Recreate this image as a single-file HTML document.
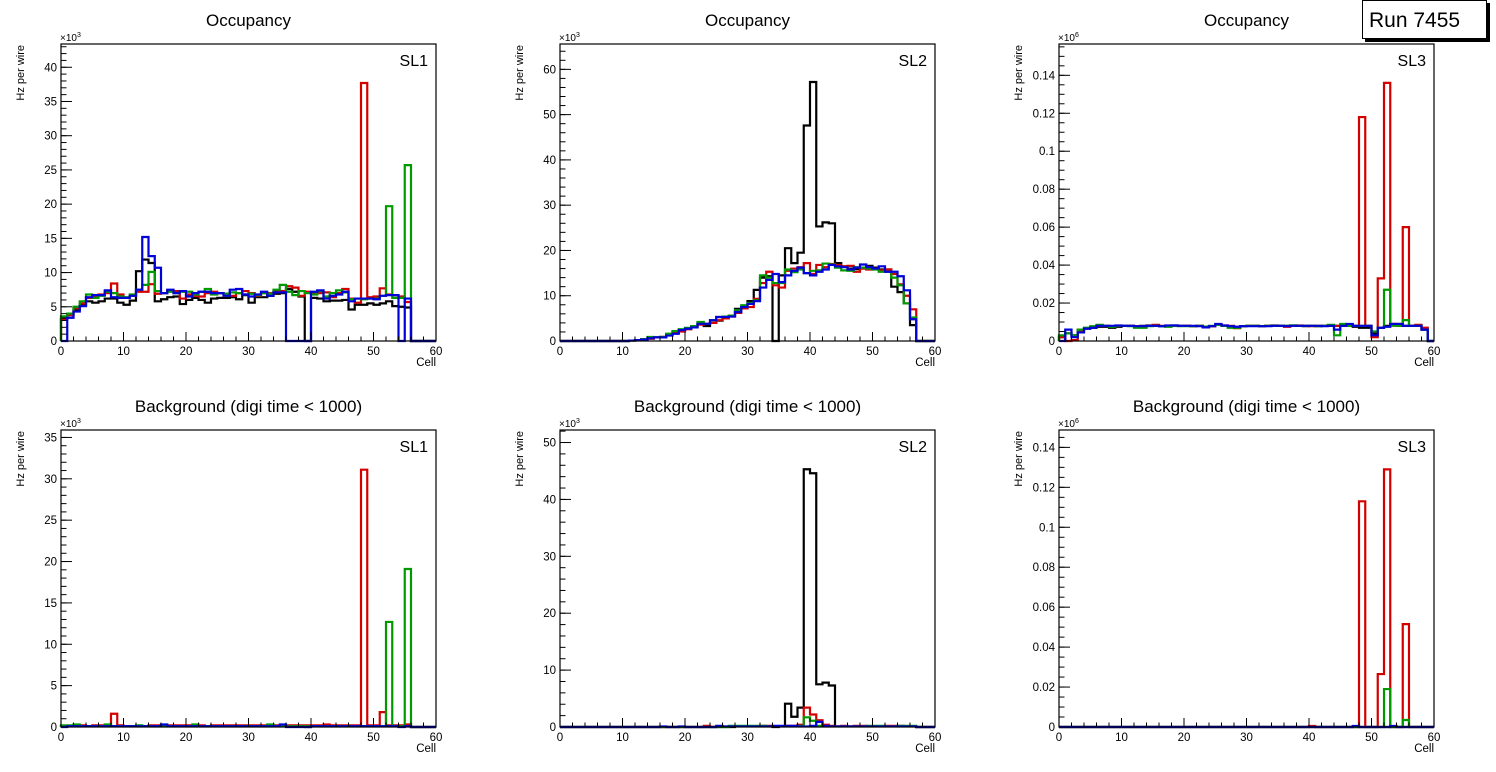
<!DOCTYPE html>
<html><head><meta charset="utf-8">
<style>
html,body{margin:0;padding:0;background:#fff;}
svg{display:block;font-family:"Liberation Sans",Arial,sans-serif;}
</style></head>
<body>
<svg id="c" width="1496" height="772" viewBox="0 0 1496 772" xmlns="http://www.w3.org/2000/svg">
<rect x="0" y="0" width="1496" height="772" fill="#fff"/>
<g>
<rect x="1365" y="39" width="124" height="3" fill="#000"/>
<rect x="1486" y="3" width="4" height="39" fill="#000"/>
<rect x="1362.5" y="0.5" width="124" height="38" fill="#fff" stroke="#000" stroke-width="1"/>
<text x="1369" y="27" font-size="21">Run 7455</text>
</g>
</svg>
<script>
const cells = [0,10,20,30,40,50,60];
// Panel 1 (Occupancy SL1, x10^3)
const p1Black=[3.3,3.8,4.5,5.2,5.8,5.6,5.8,6.2,6.2,5.6, 5.3,5.9,10.2,11.9,11.4,5.8,6.1,6.4,6.5,5.4, 6.0,6.3,6.0,5.6,6.2,6.3,6.3,6.4,6.1,6.7, 5.6,6.4,6.4,6.6,6.9,7.0,7.6,7.2,6.5,0, 6.3,6.2,5.8,5.9,5.9,6.0,4.6,5.3,5.3,5.5, 5.3,5.5,5.8,5.1,5.0,4.9,0,0,0,0];
const p1Red=[3.1,3.8,4.8,5.5,6.3,6.5,6.8,7.0,8.4,6.8, 6.3,6.6,7.2,7.2,8.3,6.9,7.0,7.4,7.3,6.2, 6.8,6.6,6.5,7.0,7.2,7.0,6.9,6.6,7.0,7.3, 7.0,6.6,7.0,7.0,7.3,7.3,8.0,7.8,6.6,7.2, 6.9,7.0,7.1,6.4,7.0,7.6,6.2,5.6,37.7,6.4, 6.5,7.7,6.8,6.7,6.5,5.7,0,0,0,0];
const p1Green=[3.6,4.0,5.0,5.8,6.8,6.3,6.6,7.2,7.0,6.5, 6.4,6.8,7.5,8.2,10.1,7.3,7.0,7.2,7.0,7.2, 7.2,6.8,7.2,7.6,6.8,7.0,6.9,7.1,7.0,6.8, 6.9,6.7,7.0,6.9,7.5,8.2,7.2,6.7,7.3,7.0, 6.8,7.3,6.5,7.0,7.4,7.1,6.1,6.2,6.1,6.2, 6.2,6.6,19.7,6.3,6.3,25.7,0,0,0,0];
const p1Blue=[0,3.4,4.3,5.1,6.4,6.7,6.7,7.4,6.4,6.3, 6.3,6.6,7.5,15.2,12.4,10.7,7.0,7.5,7.0,7.3, 6.5,7.0,7.2,7.2,7.0,7.0,6.6,7.5,7.6,6.8, 6.5,6.8,7.2,6.6,7.1,7.1,0,0,0,0, 7.2,7.4,6.2,6.6,6.8,7.2,5.8,6.2,6.2,6.2, 6.1,6.6,6.7,6.7,0,6.2,0,0,0,0];
// Panel 2 (Occupancy SL2, x10^3)
const p2Black=[0,0,0,0,0,0,0,0,0,0, 0,0.1,0.2,0.4,0.6,0.8,0.9,1.5,2.1,2.4, 2.8,3.2,3.8,3.3,4.0,4.5,5.2,5.5,7.1,7.5, 8.8,11.3,14.0,14.3,0,14.5,20.5,17.2,19.5,47.6, 57.2,25.3,26.2,26.0,17.2,16.5,16.0,15.9,16.0,16.6, 16.2,15.8,15.8,12.0,10.8,8.3,3.5,0,0,0];
const p2Red=[0,0,0,0,0,0,0,0,0,0, 0,0.1,0.2,0.3,0.5,0.8,0.9,1.3,1.8,2.1, 2.6,3.0,3.6,3.8,4.0,4.6,5.0,5.4,6.2,7.2, 7.5,9.3,12.8,15.3,12.3,11.8,15.5,16.0,16.3,17.2, 14.8,16.8,16.3,17.0,16.8,16.5,16.6,15.3,16.0,15.8, 16.0,15.6,15.8,14.8,12.5,10.0,7.0,0,0,0];
const p2Green=[0,0,0,0,0,0,0,0,0,0, 0,0.1,0.2,0.4,0.9,0.8,0.9,1.6,2.2,2.6, 2.9,3.3,4.2,3.8,4.6,5.3,5.4,5.6,6.8,7.9, 8.4,9.0,14.5,14.0,12.8,12.8,15.8,15.2,15.8,15.0, 15.5,15.6,17.1,16.9,16.2,15.6,15.5,16.3,16.2,16.0, 15.8,15.3,15.3,14.0,12.3,8.3,5.2,0,0,0];
const p2Blue=[0,0,0,0,0,0,0,0,0,0, 0,0.1,0.2,0.3,0.6,0.8,0.8,1.2,1.6,2.4, 2.7,3.0,3.8,3.8,4.6,5.3,5.3,5.4,6.4,7.5, 8.2,8.8,11.8,13.5,14.8,13.0,14.5,15.5,16.2,15.0, 14.5,15.3,15.8,16.8,16.5,16.3,15.8,16.2,16.9,16.3, 16.0,16.5,15.3,15.3,14.3,11.2,4.8,0,0,0];
// Panel 3 (Occupancy SL3, x10^6)
const p3Black=[0.002,0.004,0.003,0.006,0.0065,0.007,0.0075,0.0075,0.007,0.0075, 0.008,0.008,0.0078,0.008,0.0082,0.008,0.0078,0.008,0.0082,0.008, 0.008,0.0078,0.008,0.0075,0.0078,0.0085,0.008,0.0078,0.0072,0.0078, 0.008,0.008,0.0078,0.008,0.0082,0.008,0.008,0.0082,0.008,0.0078, 0.008,0.0078,0.008,0.008,0.008,0.008,0.008,0.0075,0.007,0.007, 0.004,0.007,0.008,0.009,0.009,0.008,0.008,0.008,0.006,0];
const p3Red=[0.002,0,0.0005,0.005,0.0068,0.0075,0.008,0.008,0.0078,0.008, 0.008,0.008,0.0078,0.0072,0.008,0.0085,0.008,0.0078,0.008,0.008, 0.008,0.0078,0.008,0.0072,0.0078,0.0085,0.0082,0.008,0.0068,0.0078, 0.008,0.008,0.0078,0.008,0.008,0.008,0.0075,0.008,0.0082,0.008, 0.0078,0.008,0.008,0.0082,0.008,0.008,0.0085,0.008,0.118,0.008, 0.002,0.033,0.136,0.009,0.008,0.060,0.008,0.0085,0.007,0];
const p3Green=[0.003,0.004,0.003,0.006,0.007,0.0078,0.0085,0.008,0.0075,0.008, 0.008,0.0078,0.007,0.007,0.0078,0.008,0.0078,0.0075,0.008,0.0078, 0.0078,0.0078,0.008,0.0075,0.008,0.0085,0.008,0.007,0.007,0.0078, 0.008,0.008,0.0078,0.008,0.008,0.008,0.008,0.0082,0.008,0.008, 0.008,0.0078,0.008,0.0085,0.003,0.009,0.008,0.008,0.008,0.008, 0.005,0.007,0.027,0.008,0.008,0.011,0.008,0.008,0.006,0];
const p3Blue=[0,0.006,0.002,0.0045,0.0065,0.007,0.008,0.008,0.008,0.0082, 0.008,0.008,0.0078,0.0078,0.008,0.008,0.0078,0.0082,0.0082,0.008, 0.008,0.008,0.0078,0.0072,0.0078,0.009,0.0082,0.0078,0.0075,0.0078, 0.0078,0.0078,0.0078,0.0078,0.008,0.008,0.0078,0.008,0.008,0.008, 0.008,0.008,0.0078,0.008,0.006,0.008,0.009,0.008,0.008,0.008, 0.003,0.007,0.0075,0.009,0.009,0.008,0.008,0.008,0.006,0];
// Panel 4 (Background SL1, x10^3)
const p4Black=[0.1,0.1,0.1,0.1,0.1,0.1,0.1,0.1,0.1,0.1, 0.1,0.1,0.1,0.1,0.1,0.1,0.1,0.1,0.1,0.1, 0.1,0.1,0.1,0.1,0.1,0.1,0.1,0.1,0.1,0.1, 0.1,0.1,0.1,0.1,0.1,0.1,0.1,0.1,0.1,0, 0.1,0.1,0.1,0.1,0.1,0.1,0.1,0.1,0.1,0.1, 0.1,0.1,0.1,0.1,0.1,0.1,0,0,0,0];
const p4Red=[0.1,0.1,0.2,0.2,0.1,0.2,0.2,0.2,1.6,0.2, 0.1,0.1,0.1,0.1,0.2,0.2,0.2,0.2,0.2,0.2, 0.2,0.2,0.2,0.1,0.2,0.2,0.2,0.2,0.2,0.2, 0.2,0.2,0.2,0.2,0.2,0.2,0.2,0.2,0.2,0.2, 0.2,0.2,0.3,0.2,0.2,0.2,0.2,0.2,31.1,0.2, 0.2,1.8,0.2,0.2,0.2,0.3,0,0,0,0];
const p4Green=[0.2,0.2,0.3,0.1,0.1,0.1,0.1,0.3,0.1,0.1, 0.1,0.1,0.2,0.1,0.1,0.1,0.2,0.1,0.1,0.1, 0.1,0.3,0.1,0.1,0.1,0.1,0.1,0.1,0.1,0.1, 0.1,0.1,0.1,0.3,0.1,0.2,0.1,0.1,0.1,0.1, 0.1,0.1,0.1,0.1,0.1,0.1,0.1,0.1,0.1,0.1, 0.1,0.1,12.7,0.1,0.1,19.1,0,0,0,0];
const p4Blue=[0,0.1,0.1,0.1,0.1,0.1,0.1,0.1,0.1,0.1, 0.1,0.1,0.1,0.1,0.1,0.1,0.3,0.1,0.1,0.1, 0.1,0.1,0.1,0.1,0.1,0.1,0.1,0.1,0.1,0.1, 0.1,0.1,0.1,0.1,0.1,0.3,0,0,0,0, 0.1,0.1,0.1,0.1,0.1,0.1,0.1,0.1,0.1,0.1, 0.1,0.1,0.1,0.1,0,0.1,0,0,0,0];
// Panel 5 (Background SL2, x10^3)
const p5Black=[0,0,0,0,0,0,0,0,0,0, 0,0,0,0,0,0,0,0,0,0, 0,0,0,0,0,0,0,0,0.1,0.1, 0.1,0.1,0.1,0.1,0,0.1,4.1,1.8,3.4,45.3, 44.6,7.5,7.8,7.3,0.1,0.1,0.1,0.1,0.1,0.1, 0.1,0.1,0.1,0.1,0.1,0.1,0.1,0,0,0];
const p5Red=[0,0,0,0,0,0,0,0,0,0, 0,0,0,0,0,0,0,0,0,0, 0,0,0,0.2,0,0.1,0.1,0.1,0.1,0.1, 0.1,0.1,0.2,0.2,0.1,0.1,0.2,0.2,0.4,3.4, 2.2,1.2,0.4,0.2,0.1,0.2,0.1,0.2,0.2,0.1, 0.1,0.1,0.2,0.2,0.2,0.1,0.1,0,0,0];
const p5Green=[0,0,0,0,0,0,0,0,0,0, 0,0,0,0,0,0,0,0,0,0, 0,0,0,0,0,0,0,0.2,0.2,0.2, 0.2,0.2,0.2,0.1,0.1,0.1,0.1,0.1,0.2,1.7, 1.1,0.2,0.1,0.1,0.1,0.1,0.1,0.1,0.1,0.2, 0.2,0.2,0.1,0.1,0.2,0.2,0.2,0,0,0];
const p5Blue=[0,0,0,0,0,0,0,0,0,0, 0,0,0,0,0,0,0.1,0,0,0.1, 0,0,0,0,0,0.2,0.1,0.1,0.1,0.1, 0.1,0.1,0.1,0.1,0.2,0.2,0.2,0.2,0.1,0.1, 0.2,0.9,0.2,0.1,0.1,0.1,0.1,0.1,0.1,0.1, 0.1,0.1,0.1,0.1,0.1,0.1,0.1,0,0,0];
// Panel 6 (Background SL3, x10^6)
const p6Black=[0,0,0,0,0,0,0,0,0,0, 0,0,0,0,0,0,0,0,0,0, 0,0,0,0,0,0,0,0,0,0, 0,0,0,0,0,0,0,0,0,0, 0,0,0,0,0,0,0,0,0,0, 0,0,0,0,0,0,0,0,0,0];
const p6Red=[0,0,0,0,0,0,0,0,0,0, 0,0,0,0,0,0,0,0,0,0, 0,0,0,0,0,0,0,0,0,0, 0,0,0,0,0,0,0,0,0,0, 0.0005,0,0,0,0,0,0,0,0.113,0, 0,0.0265,0.129,0,0,0.0515,0,0,0,0];
const p6Green=[0,0,0,0,0,0,0,0,0,0, 0,0,0,0,0,0,0,0,0,0, 0,0,0,0,0,0,0,0,0,0, 0,0,0,0,0,0,0,0,0,0, 0,0,0,0,0,0,0,0,0,0, 0,0,0.019,0,0,0.0035,0,0,0,0];
const p6Blue=[0,0,0,0,0,0,0,0,0,0, 0,0,0,0,0,0,0,0,0,0, 0,0,0,0,0,0,0,0,0,0, 0,0,0,0,0,0,0,0,0,0, 0,0,0,0,0,0,0,0.0005,0,0, 0,0,0,0.0005,0,0,0,0,0,0];
const p1Ticks=[0,5,10,15,20,25,30,35,40];
const p2Ticks=[0,10,20,30,40,50,60];
const p3Ticks=[0,0.02,0.04,0.06,0.08,0.1,0.12,0.14];
const p4Ticks=[0,5,10,15,20,25,30,35];
const p5Ticks=[0,10,20,30,40,50];
const p6Ticks=[0,0.02,0.04,0.06,0.08,0.1,0.12,0.14];

const NS="http://www.w3.org/2000/svg";
const svg=document.getElementById('c');
function mk(tag,attrs,parent){const e=document.createElementNS(NS,tag);for(const k in attrs)e.setAttribute(k,attrs[k]);(parent||svg).appendChild(e);return e;}

const colors=['#000000','#d40000','#009a00','#0000d8'];
const seriesNames=['black','red','green','blue'];
const panels=[
 {id:'p1',L:61,R:436,T:44,B:341,ymax:43.4,ticks:p1Ticks,minor:1,exp:'3',title:'Occupancy',sl:'SL1',data:[p1Black,p1Red,p1Green,p1Blue]},
 {id:'p2',L:560,R:935,T:44,B:341,ymax:65.6,ticks:p2Ticks,minor:2,exp:'3',title:'Occupancy',sl:'SL2',data:[p2Black,p2Red,p2Green,p2Blue]},
 {id:'p3',L:1059,R:1434,T:44,B:341,ymax:0.1565,ticks:p3Ticks,minor:0.005,exp:'6',title:'Occupancy',sl:'SL3',data:[p3Black,p3Red,p3Green,p3Blue]},
 {id:'p4',L:61,R:436,T:430,B:727,ymax:35.9,ticks:p4Ticks,minor:1,exp:'3',title:'Background (digi time < 1000)',sl:'SL1',data:[p4Black,p4Red,p4Green,p4Blue]},
 {id:'p5',L:560,R:935,T:430,B:727,ymax:52.2,ticks:p5Ticks,minor:2,exp:'3',title:'Background (digi time < 1000)',sl:'SL2',data:[p5Black,p5Red,p5Green,p5Blue]},
 {id:'p6',L:1059,R:1434,T:430,B:727,ymax:0.1487,ticks:p6Ticks,minor:0.005,exp:'6',title:'Background (digi time < 1000)',sl:'SL3',data:[p6Black,p6Red,p6Green,p6Blue]}
];

panels.forEach(p=>{
 const g=mk('g',{});
 
 
 const xs=v=>p.L+(v-0)/(60-0)*(p.R-p.L);
 const ys=v=>p.B-v/p.ymax*(p.B-p.T);
 // title
 const t=mk('text',{x:(p.L+p.R)/2,y:p.T-18,'font-size':17,'text-anchor':'middle'},g);
 t.textContent=p.title;
 
 
 // histograms
 p.data.forEach((arr,si)=>{
  let d='M'+xs(0)+','+ys(0);
  arr.forEach((v,i)=>{d+=' V'+ys(v).toFixed(2)+' H'+xs(i+1).toFixed(2);});
  d+=' V'+ys(0);
  const path=mk('path',{d:d,fill:'none',stroke:colors[si],'stroke-width':2.2,'stroke-linejoin':'miter'},g);
  
  
 });
 // frame
 const fr=mk('rect',{x:p.L,y:p.T,width:p.R-p.L,height:p.B-p.T,fill:'none',stroke:'#000','stroke-width':1.2},g);
 
 
 // x ticks
 for(let v=0;v<=60;v+=2){
  const len=(v%10===0)?9:4.5;
  mk('line',{x1:xs(v),x2:xs(v),y1:p.B,y2:p.B-len,stroke:'#000','stroke-width':1},g);
 }
 cells.forEach(v=>{
  const tl=mk('text',{x:xs(v),y:p.B+14,'font-size':11.5,'text-anchor':'middle'},g);
  tl.textContent=String(v);
  
  
 });
 const xt=mk('text',{x:p.R,y:p.B+25,'font-size':11.5,'text-anchor':'end'},g);
 xt.textContent='Cell';
 
 
 // y minor ticks
 const nMinor=Math.floor(p.ymax/p.minor+1e-6);
 for(let k=0;k<=nMinor;k++){
  const v=k*p.minor;
  mk('line',{x1:p.L,x2:p.L+5.5,y1:ys(v),y2:ys(v),stroke:'#000','stroke-width':1},g);
 }
 p.ticks.forEach(v=>{
  mk('line',{x1:p.L,x2:p.L+11,y1:ys(v),y2:ys(v),stroke:'#000','stroke-width':1},g);
  const tl=mk('text',{x:p.L-4,y:ys(v)+4,'font-size':11.5,'text-anchor':'end'},g);
  tl.textContent=String(v);
  
  
 });
 // exponent
 const ex=mk('text',{x:p.L-1,y:p.T-3,'font-size':10},g);
 ex.textContent='×10';
 const sup=mk('tspan',{dy:-4,'font-size':7},ex);
 sup.textContent=p.exp;
 
 
 // y title
 const yt=mk('text',{x:0,y:0,'font-size':11,'text-anchor':'end',transform:'translate('+(p.L-37)+','+(p.T+1)+') rotate(-90)'},g);
 yt.textContent='Hz per wire';
 
 
 // SL label
 const sl=mk('text',{x:p.R-8,y:p.T+22,'font-size':16,'text-anchor':'end'},g);
 sl.textContent=p.sl;
 
 
});
</script>
</body></html>
